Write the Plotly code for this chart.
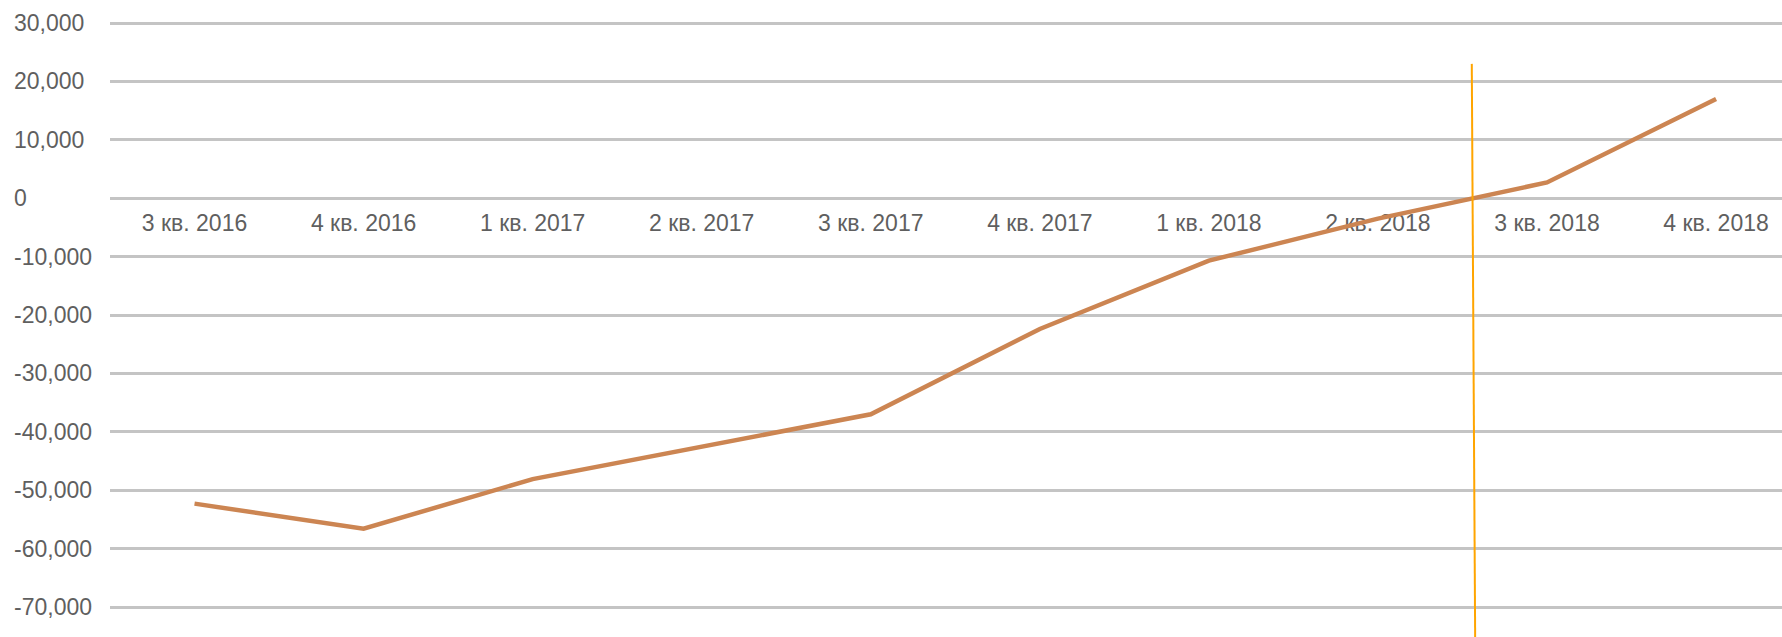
import plotly.graph_objects as go

categories = ["3 кв. 2016", "4 кв. 2016", "1 кв. 2017", "2 кв. 2017", "3 кв. 2017",
              "4 кв. 2017", "1 кв. 2018", "2 кв. 2018", "3 кв. 2018", "4 кв. 2018"]
values = [-52300, -56600, -48100, -42500, -37000, -22400, -10700, -3500, 2700, 17000]

y_tickvals = [30000, 20000, 10000, 0, -10000, -20000, -30000, -40000, -50000, -60000, -70000]
y_ticktext = ["30,000", "20,000", "10,000", "0", "-10,000", "-20,000", "-30,000",
              "-40,000", "-50,000", "-60,000", "-70,000"]

W, H = 1782, 637
ymin, ymax = -75137, 33938
xmin, xmax = -0.5, 9.39
marker_x = [7.555, 7.575]
marker_y = [23000, ymin]

fig = go.Figure()
fig.add_trace(go.Scatter(
    x=list(range(len(categories))), y=values, mode="lines",
    line=dict(color="#CC8552", width=4.5), hoverinfo="skip", showlegend=False))

fig.add_shape(type="line", xref="x", yref="y",
              x0=marker_x[0], x1=marker_x[1], y0=marker_y[0], y1=marker_y[1],
              line=dict(color="#FFA500", width=2))

zero_pos = (0 - ymin) / (ymax - ymin)
font = dict(family="Liberation Sans, Arial, sans-serif", size=23, color="#5f5f5f")

fig.update_layout(
    width=W, height=H,
    margin=dict(l=0, r=0, t=0, b=0),
    paper_bgcolor="white", plot_bgcolor="white",
    xaxis=dict(
        domain=[110 / W, 1], range=[xmin, xmax],
        tickvals=list(range(len(categories))), ticktext=categories,
        anchor="free", position=zero_pos,
        showgrid=False, zeroline=False, showline=False,
        ticks="", tickfont=font, ticklabelstandoff=9,
        layer="below traces",
    ),
    yaxis=dict(
        domain=[0, 1], range=[ymin, ymax],
        tickvals=y_tickvals, ticktext=y_ticktext,
        anchor="free", position=10 / W,
        ticklabelposition="inside",
        showgrid=True, gridcolor="#C4C4C4", gridwidth=3,
        zeroline=False, showline=False, ticks="",
        tickfont=font, layer="below traces",
    ),
)

fig.write_html("out.html", config={"displayModeBar": False},
               post_script="document.body.style.margin='0';document.body.style.overflow='hidden';")
